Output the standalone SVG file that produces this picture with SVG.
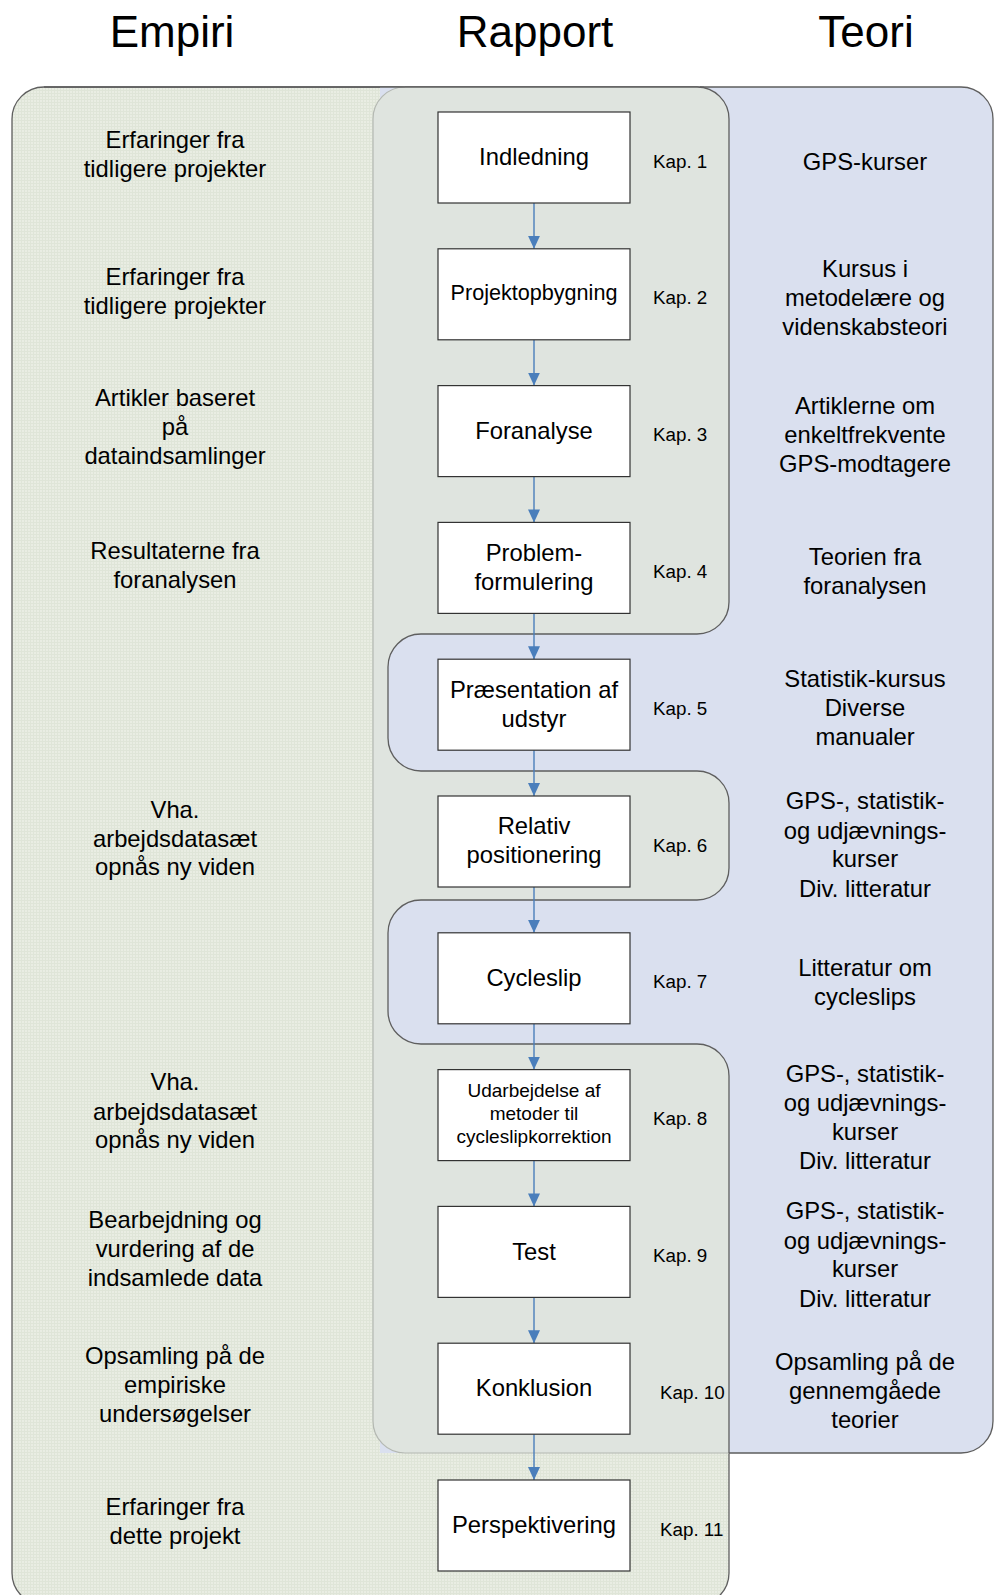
<svg xmlns="http://www.w3.org/2000/svg" width="994" height="1595" viewBox="0 0 994 1595">
  <style>
    text { font-family: "Liberation Sans", Arial, sans-serif; fill: #000; text-anchor: middle; }
    .h { font-size: 44px; }
    .t { font-size: 23.8px; }
    .k { font-size: 18.8px; text-anchor: start; }
    .b { font-size: 23.8px; }
    .bs { font-size: 21.6px; }
    .bx { font-size: 19px; }
    .box { fill: #fff; stroke: #333; stroke-width: 1.2; }
    .edge { stroke: #4a7ebb; stroke-width: 1.4; fill: none; marker-end: url(#arrow); }
    .dark { fill: none; stroke: #5e5e5e; stroke-width: 1.3; }
    .light { fill: none; stroke: #b4b8b2; stroke-width: 1.2; }
  </style>
  <defs>
    <pattern id="grid" width="3" height="3" patternUnits="userSpaceOnUse">
      <rect width="3" height="3" fill="#e9ede3"/>
      <path d="M0 0.5H3M0.5 0V3" stroke="#dfe5d8" stroke-width="1"/>
    </pattern>
    <marker id="arrow" markerUnits="userSpaceOnUse" markerWidth="14" markerHeight="14" viewBox="0 0 14 14" refX="13" refY="7" orient="auto">
      <path d="M0 1 L13 7 L0 13 Z" fill="#4a7ebb"/>
    </marker>
  </defs>

  <!-- column headings -->
  <g id="headings">
    <text class="h" x="172" y="47">Empiri</text>
    <text class="h" x="535" y="47">Rapport</text>
    <text class="h" x="866" y="47">Teori</text>
  </g>

  <!-- background bands -->
  <g id="bands">
    <rect id="empiri-band" x="12" y="87" width="717" height="1518" rx="32" ry="32" fill="url(#grid)" stroke="#5e5e5e" stroke-width="1.3"/>
    <path id="teori-band" d="M380 87 H961 A32 32 0 0 1 993 119 V1421 A32 32 0 0 1 961 1453 H380 Z" fill="#dae0ef"/>
    <path class="dark" d="M700 87 H961 A32 32 0 0 1 993 119 V1421 A32 32 0 0 1 961 1453 H729"/>
    <path id="rapport-band" fill="#dfe4df" d="M405 87 H697 A32 32 0 0 1 729 119 V602 A32 32 0 0 1 697 634 H421 A33 33 0 0 0 388 667 V738 A33 33 0 0 0 421 771 H697 A32 32 0 0 1 729 803 V868 A32 32 0 0 1 697 900 H421 A33 33 0 0 0 388 933 V1011 A33 33 0 0 0 421 1044 H697 A32 32 0 0 1 729 1076 V1453 H405 A32 32 0 0 1 373 1421 V119 A32 32 0 0 1 405 87 Z"/>
    <path class="light" d="M729 1453 H405 A32 32 0 0 1 373 1421 V119 A32 32 0 0 1 405 87"/>
    <path class="dark" d="M44 87 H697 A32 32 0 0 1 729 119 V602 A32 32 0 0 1 697 634 H421 A33 33 0 0 0 388 667 V738 A33 33 0 0 0 421 771 H697 A32 32 0 0 1 729 803 V868 A32 32 0 0 1 697 900 H421 A33 33 0 0 0 388 933 V1011 A33 33 0 0 0 421 1044 H697 A32 32 0 0 1 729 1076 V1453"/>
  </g>

  <!-- empirical sources -->
  <g id="empiri-texts">
    <text class="t" x="175" y="148">Erfaringer fra</text>
    <text class="t" x="175" y="177">tidligere projekter</text>
    <text class="t" x="175" y="284.5">Erfaringer fra</text>
    <text class="t" x="175" y="313.5">tidligere projekter</text>
    <text class="t" x="175" y="406">Artikler baseret</text>
    <text class="t" x="175" y="435">på</text>
    <text class="t" x="175" y="463.5">dataindsamlinger</text>
    <text class="t" x="175" y="559">Resultaterne fra</text>
    <text class="t" x="175" y="588">foranalysen</text>
    <text class="t" x="175" y="817.5">Vha.</text>
    <text class="t" x="175" y="847">arbejdsdatasæt</text>
    <text class="t" x="175" y="875">opnås ny viden</text>
    <text class="t" x="175" y="1090">Vha.</text>
    <text class="t" x="175" y="1120">arbejdsdatasæt</text>
    <text class="t" x="175" y="1148">opnås ny viden</text>
    <text class="t" x="175" y="1227.5">Bearbejdning og</text>
    <text class="t" x="175" y="1257">vurdering af de</text>
    <text class="t" x="175" y="1285.5">indsamlede data</text>
    <text class="t" x="175" y="1364">Opsamling på de</text>
    <text class="t" x="175" y="1393">empiriske</text>
    <text class="t" x="175" y="1422">undersøgelser</text>
    <text class="t" x="175" y="1515">Erfaringer fra</text>
    <text class="t" x="175" y="1544">dette projekt</text>
  </g>

  <!-- theory sources -->
  <g id="teori-texts">
    <text class="t" x="865" y="169.5">GPS-kurser</text>
    <text class="t" x="865" y="277">Kursus i</text>
    <text class="t" x="865" y="306">metodelære og</text>
    <text class="t" x="865" y="335">videnskabsteori</text>
    <text class="t" x="865" y="413.5">Artiklerne om</text>
    <text class="t" x="865" y="442.5">enkeltfrekvente</text>
    <text class="t" x="865" y="471.5">GPS-modtagere</text>
    <text class="t" x="865" y="565">Teorien fra</text>
    <text class="t" x="865" y="593.5">foranalysen</text>
    <text class="t" x="865" y="687">Statistik-kursus</text>
    <text class="t" x="865" y="716">Diverse</text>
    <text class="t" x="865" y="745">manualer</text>
    <text class="t" x="865" y="809">GPS-, statistik-</text>
    <text class="t" x="865" y="838.5">og udjævnings-</text>
    <text class="t" x="865" y="867">kurser</text>
    <text class="t" x="865" y="896.5">Div. litteratur</text>
    <text class="t" x="865" y="976">Litteratur om</text>
    <text class="t" x="865" y="1004.5">cycleslips</text>
    <text class="t" x="865" y="1082">GPS-, statistik-</text>
    <text class="t" x="865" y="1111">og udjævnings-</text>
    <text class="t" x="865" y="1140">kurser</text>
    <text class="t" x="865" y="1169">Div. litteratur</text>
    <text class="t" x="865" y="1219">GPS-, statistik-</text>
    <text class="t" x="865" y="1248.5">og udjævnings-</text>
    <text class="t" x="865" y="1277">kurser</text>
    <text class="t" x="865" y="1306.5">Div. litteratur</text>
    <text class="t" x="865" y="1370">Opsamling på de</text>
    <text class="t" x="865" y="1399">gennemgåede</text>
    <text class="t" x="865" y="1428">teorier</text>
  </g>

  <!-- connectors between chapters -->
  <g id="connectors">
    <path class="edge" d="M534 203 V248.8"/>
    <path class="edge" d="M534 339.8 V385.6"/>
    <path class="edge" d="M534 476.6 V522.4"/>
    <path class="edge" d="M534 613.4 V659.2"/>
    <path class="edge" d="M534 750.2 V796"/>
    <path class="edge" d="M534 887 V932.8"/>
    <path class="edge" d="M534 1023.8 V1069.6"/>
    <path class="edge" d="M534 1160.6 V1206.4"/>
    <path class="edge" d="M534 1297.4 V1343.2"/>
    <path class="edge" d="M534 1434.2 V1480"/>
  </g>

  <!-- chapter nodes -->
  <g id="kap1">
    <rect class="box" x="438" y="112" width="192" height="91"/>
    <text class="b" x="534" y="165">Indledning</text>
    <text class="k" x="653" y="167.5">Kap. 1</text>
  </g>
  <g id="kap2">
    <rect class="box" x="438" y="248.8" width="192" height="91"/>
    <text class="bs" x="534" y="300">Projektopbygning</text>
    <text class="k" x="653" y="304.3">Kap. 2</text>
  </g>
  <g id="kap3">
    <rect class="box" x="438" y="385.6" width="192" height="91"/>
    <text class="b" x="534" y="438.5">Foranalyse</text>
    <text class="k" x="653" y="441.1">Kap. 3</text>
  </g>
  <g id="kap4">
    <rect class="box" x="438" y="522.4" width="192" height="91"/>
    <text class="b" x="534" y="561">Problem-</text>
    <text class="b" x="534" y="589.5">formulering</text>
    <text class="k" x="653" y="577.9">Kap. 4</text>
  </g>
  <g id="kap5">
    <rect class="box" x="438" y="659.2" width="192" height="91"/>
    <text class="b" x="534" y="697.5">Præsentation af</text>
    <text class="b" x="534" y="726.5">udstyr</text>
    <text class="k" x="653" y="714.7">Kap. 5</text>
  </g>
  <g id="kap6">
    <rect class="box" x="438" y="796" width="192" height="91"/>
    <text class="b" x="534" y="834.3">Relativ</text>
    <text class="b" x="534" y="863.3">positionering</text>
    <text class="k" x="653" y="851.5">Kap. 6</text>
  </g>
  <g id="kap7">
    <rect class="box" x="438" y="932.8" width="192" height="91"/>
    <text class="b" x="534" y="986">Cycleslip</text>
    <text class="k" x="653" y="988.3">Kap. 7</text>
  </g>
  <g id="kap8">
    <rect class="box" x="438" y="1069.6" width="192" height="91"/>
    <text class="bx" x="534" y="1097">Udarbejdelse af</text>
    <text class="bx" x="534" y="1120">metoder til</text>
    <text class="bx" x="534" y="1143">cycleslipkorrektion</text>
    <text class="k" x="653" y="1125.1">Kap. 8</text>
  </g>
  <g id="kap9">
    <rect class="box" x="438" y="1206.4" width="192" height="91"/>
    <text class="b" x="534" y="1259.5">Test</text>
    <text class="k" x="653" y="1261.9">Kap. 9</text>
  </g>
  <g id="kap10">
    <rect class="box" x="438" y="1343.2" width="192" height="91"/>
    <text class="b" x="534" y="1396">Konklusion</text>
    <text class="k" x="660" y="1398.7">Kap. 10</text>
  </g>
  <g id="kap11">
    <rect class="box" x="438" y="1480" width="192" height="91"/>
    <text class="b" x="534" y="1532.5">Perspektivering</text>
    <text class="k" x="660" y="1535.5">Kap. 11</text>
  </g>
</svg>
